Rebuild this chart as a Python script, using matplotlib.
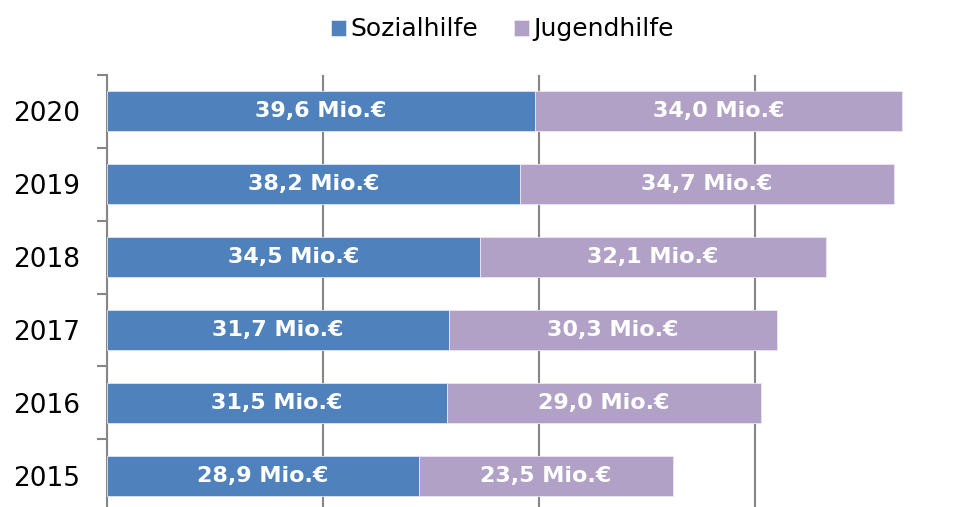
import numpy as np
import matplotlib.pyplot as plt

# Daten
jahre = ['2015', '2016', '2017', '2018', '2019', '2020']
sozialhilfe = [28.9, 31.5, 31.7, 34.5, 38.2, 39.6]
jugendhilfe = [23.5, 29.0, 30.3, 32.1, 34.7, 34.0]

blau = '#4F81BD'
lila = '#B2A1C7'

fig = plt.figure(figsize=(9.57, 5.07), dpi=100)
ax = fig.add_axes([0.1118, -0.0099, 0.903, 0.862])

y = np.arange(len(jahre))
b1 = ax.barh(y, sozialhilfe, height=0.55, color=blau, edgecolor='#dce6f2', linewidth=0.6,
             label='Sozialhilfe', zorder=3)
b2 = ax.barh(y, jugendhilfe, left=sozialhilfe, height=0.55, color=lila, edgecolor='#ece6f2',
             linewidth=0.6, label='Jugendhilfe', zorder=3)

# Beschriftungen in den Balken
for i in range(len(jahre)):
    s = sozialhilfe[i]
    j = jugendhilfe[i]
    ax.text(s / 2, y[i], f'{s:.1f} Mio.€'.replace('.', ',', 1), ha='center', va='center',
            color='white', fontsize=16, fontweight='bold', zorder=4)
    ax.text(s + j / 2, y[i], f'{j:.1f} Mio.€'.replace('.', ',', 1), ha='center', va='center',
            color='white', fontsize=16, fontweight='bold', zorder=4)

ax.set_xlim(0, 80)
ax.set_ylim(-0.5, len(jahre) - 0.5)
ax.set_xticks([0, 20, 40, 60, 80])
ax.set_xticklabels([])
ax.tick_params(axis='x', length=0)
ax.grid(axis='x', color='#868686', linewidth=1.5, zorder=0)

ax.set_yticks(y)
ax.set_yticklabels(jahre, fontsize=19)
ax.set_yticks(np.arange(-0.5, len(jahre), 1), minor=True)
ax.tick_params(axis='y', which='major', length=0, pad=19)
ax.tick_params(axis='y', which='minor', length=7, width=1.5, color='#868686')

for sp in ['top', 'right', 'bottom']:
    ax.spines[sp].set_visible(False)
ax.spines['left'].set_color('#868686')
ax.spines['left'].set_linewidth(1.5)

fig.legend(handles=[b1, b2], loc='upper center', bbox_to_anchor=(0.525, 1.01), ncol=2,
           frameon=False, fontsize=18, handlelength=0.6, handleheight=0.6,
           handletextpad=0.2, columnspacing=1.4)

fig.savefig('out.png', dpi=100)
